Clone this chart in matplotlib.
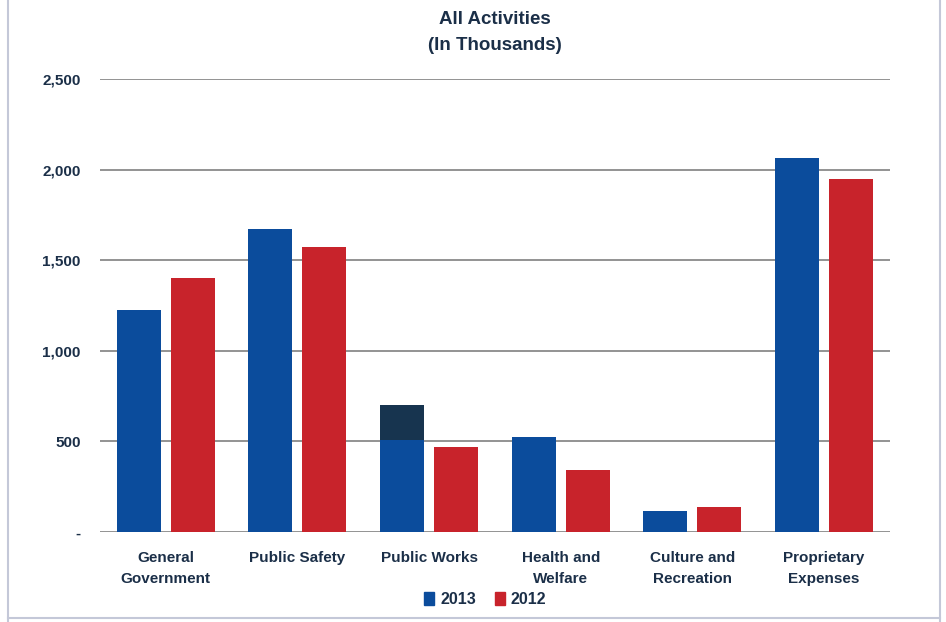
import numpy as np
import matplotlib.pyplot as plt
from matplotlib.patches import Patch
from matplotlib.lines import Line2D

# --------------> DATA (in thousands)
categories = ['General\nGovernment', 'Public Safety', 'Public Works',
              'Health and\nWelfare', 'Culture and\nRecreation', 'Proprietary\nExpenses']
values_2013 = [1225, 1672, 510, 524, 116, 2064]
extra_2013 = [0, 0, 190, 0, 0, 0]   # dark top segment on Public Works
values_2012 = [1402, 1573, 469, 342, 138, 1948]
y_ticks = [0, 500, 1000, 1500, 2000, 2500]
y_labels = ['-', '500', '1,000', '1,500', '2,000', '2,500']

# --------------> STYLE
blue = '#0b4c9c'
red = '#c8232b'
dark = '#17344f'
text_col = '#1b2f48'
plt.rcParams['font.family'] = ['Liberation Sans', 'DejaVu Sans']
plt.rcParams['font.weight'] = 'bold'

fig = plt.figure(figsize=(9.46, 6.22), dpi=100)
ax = fig.add_axes([0.1057, 0.1447, 0.835, 0.7283])

x = np.arange(len(categories))
w = 0.334
off = 0.205
ax.bar(x - off, values_2013, w, color=blue, zorder=3)
ax.bar(x - off, extra_2013, w, bottom=values_2013, color=dark, zorder=3)
ax.bar(x + off, values_2012, w, color=red, zorder=3)

ax.set_xlim(-0.5, len(categories) - 0.5)
ax.set_ylim(0, 2500)
ax.set_yticks(y_ticks)
ax.set_yticklabels(y_labels, fontsize=11, fontweight='bold', color=text_col)
ax.set_xticks(x)
ax.set_xticklabels(categories, fontsize=11, fontweight='bold', color=text_col,
                   linespacing=1.6)
ax.tick_params(axis='y', length=0, pad=14)
ax.tick_params(axis='x', length=0, pad=14)
ax.yaxis.grid(True, color='#8a8a8a', linewidth=1.3, zorder=0)
for s in ax.spines.values():
    s.set_visible(False)

fig.suptitle('All Activities\n(In Thousands)', x=0.523, y=0.983,
             fontsize=13.5, fontweight='bold', color=text_col, linespacing=1.75)

handles = [Patch(color=blue, label='2013'), Patch(color=red, label='2012')]
fig.legend(handles=handles, loc='center', bbox_to_anchor=(0.513, 0.036), ncol=2,
           frameon=False, handlelength=0.6, handleheight=0.9, handletextpad=0.4,
           columnspacing=1.2, prop={'size': 11.5, 'weight': 'bold'},
           labelcolor=text_col)

# light frame round the chart
for xs, ys in [([0.0085, 0.0085], [0.0, 1.0]), ([0.994, 0.994], [0.0, 1.0]),
               ([0.0085, 0.994], [0.006, 0.006])]:
    fig.add_artist(Line2D(xs, ys, color='#c4c8d8', linewidth=1.5))

plt.savefig('out.png', dpi=100)
